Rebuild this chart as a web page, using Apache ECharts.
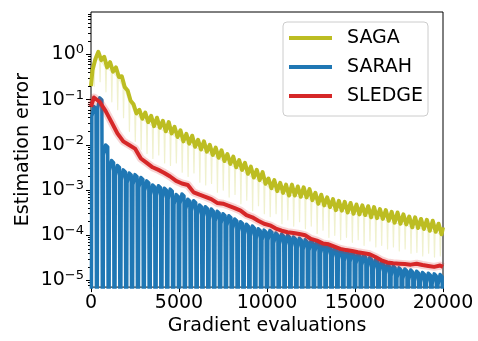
<!DOCTYPE html>
<html>
<head>
<meta charset="utf-8">
<script src="https://cdn.jsdelivr.net/npm/echarts@6/dist/echarts.min.js"></script>
<style>
html, body { margin: 0; padding: 0; background: #fff; }
#chart { width: 478px; height: 341px; }
</style>
</head>
<body>
<div id="chart"></div>
<script>
var xMax = 20000;
var period = xMax / 60;           // one outer loop = 1/60 of the run
var yLogMin = -5.147, yLogMax = 0.942;
var majorExp = [-5, -4, -3, -2, -1, 0];

// SARAH: error at the top of each loop (it drops to ~0 at every restart)
var sarahTop = [
	7.1e-2, 1.1e-1, 1.0e-2, 4.5e-3, 3.5e-3, 2.8e-3, 2.4e-3, 2.2e-3, 1.9e-3, 1.6e-3,
	1.3e-3, 1.25e-3, 1.1e-3, 1.05e-3, 8.0e-4, 8.2e-4, 6.3e-4, 5.8e-4, 4.7e-4, 4.3e-4,
	3.8e-4, 3.4e-4, 3.0e-4, 2.7e-4, 2.3e-4, 2.0e-4, 1.75e-4, 1.6e-4, 1.4e-4, 1.3e-4,
	1.28e-4, 1.12e-4, 1.06e-4, 1.0e-4, 9.2e-5, 8.6e-5, 8.0e-5, 7.6e-5, 7.1e-5, 6.6e-5,
	6.1e-5, 5.3e-5, 4.9e-5, 4.5e-5, 4.3e-5, 3.9e-5, 3.6e-5, 3.2e-5, 2.9e-5, 2.6e-5,
	2.3e-5, 2.1e-5, 1.9e-5, 1.8e-5, 1.7e-5, 1.6e-5, 1.5e-5, 1.45e-5, 1.4e-5, 1.35e-5
];
var sarahRestart = 1e-9;

// SAGA: high / low of each loop, and how far the faint runs dip
var sagaStart = 0.2, sagaEnd = 1.5e-4;
var sagaPeak = [
	4.5e-1, 1.15, 8.9e-1, 6.8e-1, 5.2e-1, 3.3e-1, 1.6e-1, 7.9e-2, 6.0e-2, 5.2e-2,
	4.4e-2, 4.0e-2, 3.4e-2, 3.2e-2, 2.5e-2, 2.1e-2, 1.75e-2, 1.6e-2, 1.3e-2, 1.2e-2,
	1.0e-2, 8.7e-3, 7.6e-3, 6.3e-3, 5.5e-3, 4.6e-3, 4.0e-3, 3.3e-3, 2.8e-3, 2.5e-3,
	1.8e-3, 1.66e-3, 1.45e-3, 1.32e-3, 1.32e-3, 1.2e-3, 1.15e-3, 1.05e-3, 8.7e-4, 7.9e-4,
	6.9e-4, 6.3e-4, 5.8e-4, 5.5e-4, 5.2e-4, 4.8e-4, 4.6e-4, 4.4e-4, 4.2e-4, 3.8e-4,
	3.6e-4, 3.3e-4, 3.2e-4, 2.9e-4, 2.6e-4, 2.5e-4, 2.3e-4, 2.2e-4, 2.1e-4, 1.8e-4
];
var sagaTrough = [
	8.0e-1, 7.5e-1, 5.2e-1, 4.2e-1, 3.2e-1, 1.9e-1, 9.5e-2, 5.0e-2, 3.8e-2, 3.2e-2,
	2.6e-2, 2.4e-2, 2.0e-2, 1.8e-2, 1.5e-2, 1.2e-2, 1.07e-2, 9.1e-3, 7.9e-3, 7.1e-3,
	6.0e-3, 5.2e-3, 4.4e-3, 3.8e-3, 3.2e-3, 2.8e-3, 2.3e-3, 1.9e-3, 1.66e-3, 1.38e-3,
	1.1e-3, 9.5e-4, 8.7e-4, 7.6e-4, 7.6e-4, 7.1e-4, 6.9e-4, 6.0e-4, 5.0e-4, 4.6e-4,
	4.2e-4, 3.6e-4, 3.5e-4, 3.2e-4, 3.0e-4, 2.9e-4, 2.8e-4, 2.5e-4, 2.4e-4, 2.3e-4,
	2.1e-4, 1.9e-4, 1.8e-4, 1.74e-4, 1.5e-4, 1.45e-4, 1.38e-4, 1.26e-4, 1.2e-4, 1.05e-4
];
var sagaDip = [
	2.0e-1, 2.5e-1, 1.5e-1, 9.0e-2, 6.0e-2, 4.0e-2, 2.0e-2, 1.2e-2, 8.0e-3, 6.5e-3,
	5.0e-3, 6.0e-3, 4.0e-3, 3.5e-3, 4.0e-3, 2.5e-3, 2.0e-3, 2.4e-3, 1.5e-3, 1.3e-3,
	1.4e-3, 9.0e-4, 1.0e-3, 7.0e-4, 8.0e-4, 5.0e-4, 6.0e-4, 3.5e-4, 4.5e-4, 3.0e-4,
	2.6e-4, 3.0e-4, 1.8e-4, 2.2e-4, 1.6e-4, 2.0e-4, 1.4e-4, 1.6e-4, 1.1e-4, 1.3e-4,
	9.0e-5, 1.0e-4, 8.0e-5, 9.0e-5, 7.0e-5, 8.0e-5, 6.0e-5, 7.5e-5, 5.5e-5, 6.0e-5,
	5.0e-5, 5.5e-5, 4.5e-5, 5.0e-5, 4.0e-5, 4.2e-5, 3.5e-5, 4.0e-5, 3.3e-5, 3.5e-5
];

// SLEDGE: one value per loop
var sledgeStart = 7.0e-2, sledgeEnd = 2.0e-5;
var sledge = [
	1.12e-1, 8.9e-2, 5.6e-2, 3.2e-2, 1.8e-2, 1.2e-2, 1.0e-2, 8.3e-3, 5.0e-3, 4.0e-3,
	3.2e-3, 2.8e-3, 2.4e-3, 2.0e-3, 1.6e-3, 1.4e-3, 1.3e-3, 8.9e-4, 7.9e-4, 7.1e-4,
	6.3e-4, 5.2e-4, 5.0e-4, 4.5e-4, 4.0e-4, 3.5e-4, 2.8e-4, 2.5e-4, 2.1e-4, 1.8e-4,
	1.66e-4, 1.41e-4, 1.26e-4, 1.17e-4, 1.12e-4, 1.07e-4, 1.0e-4, 8.3e-5, 7.6e-5, 6.6e-5,
	6.3e-5, 5.6e-5, 5.0e-5, 4.7e-5, 4.5e-5, 4.2e-5, 4.0e-5, 3.8e-5, 3.3e-5, 2.8e-5,
	2.5e-5, 2.4e-5, 2.35e-5, 2.3e-5, 2.24e-5, 2.35e-5, 2.2e-5, 2.1e-5, 2.0e-5, 2.14e-5
];

var font = "'DejaVu Sans', sans-serif";

// build the series point lists
var sarahData = [];
var sagaData = [[0, sagaStart]];
var sagaFaint = [];
var sledgeData = [[0, sledgeStart]];
for (var k = 0; k < 60; k++) {
	var x0 = k * period;
	sarahData.push([x0, sarahRestart]);
	sarahData.push([x0 + 0.15 * period, sarahTop[k] * 0.6]);
	sarahData.push([x0 + 0.5 * period, sarahTop[k]]);
	sarahData.push([x0 + 0.85 * period, sarahTop[k] * 0.9]);

	sagaData.push([x0 + 0.25 * period, sagaPeak[k]]);
	sagaData.push([x0 + 0.75 * period, sagaTrough[k]]);

	sagaFaint.push([x0 + 0.45 * period, sagaTrough[k]]);
	sagaFaint.push([x0 + 0.55 * period, sagaDip[k]]);
	sagaFaint.push([x0 + 0.65 * period, sagaTrough[k]]);

	sledgeData.push([x0 + 0.5 * period, sledge[k]]);
}
sarahData.push([xMax, sarahRestart]);
sagaData.push([xMax, sagaEnd]);
sledgeData.push([xMax, sledgeEnd]);

// minor ticks at 2..9 x 10^e, in log units
var minorTicks = [];
for (var e = -6; e <= 0; e++) {
	for (var m = 2; m <= 9; m++) {
		var v = e + Math.log10(m);
		if (v > yLogMin && v < yLogMax) minorTicks.push(v);
	}
}

var myChart = echarts.init(document.getElementById('chart'));

myChart.setOption({
	animation: false,
	textStyle: { fontFamily: font },
	grid: { left: 91, right: 35, top: 12, bottom: 51, show: true, borderColor: '#000', borderWidth: 1, backgroundColor: 'transparent' },
	legend: {
		data: [{ name: 'SAGA', icon: 'rect' }, { name: 'SARAH', icon: 'rect' }, { name: 'SLEDGE', icon: 'rect' }],
		orient: 'vertical',
		left: 283, top: 22,
		padding: [5, 5, 9, 6],
		itemWidth: 43, itemHeight: 4, itemGap: 7,
		textStyle: { fontFamily: font, fontSize: 19, color: '#000', lineHeight: 22, padding: [0, 0, 0, 10] },
		backgroundColor: 'rgba(255,255,255,0.8)',
		borderColor: '#cccccc', borderWidth: 1, borderRadius: 4,
		selectedMode: false
	},
	xAxis: {
		type: 'value', min: 0, max: xMax, interval: 5000,
		name: 'Gradient evaluations', nameLocation: 'middle', nameGap: 27,
		nameTextStyle: { fontFamily: font, fontSize: 19, color: '#000' },
		axisLine: { show: false, onZero: false },
		axisTick: { show: true, length: 5, lineStyle: { color: '#000', width: 1 } },
		axisLabel: { fontFamily: font, fontSize: 19, color: '#000', margin: 6, formatter: function (v) { return String(v); } },
		splitLine: { show: false }
	},
	yAxis: [{
		type: 'log', logBase: 10,
		min: Math.pow(10, yLogMin), max: Math.pow(10, yLogMax),
		name: 'Estimation error', nameLocation: 'middle', nameGap: 58,
		nameTextStyle: { fontFamily: font, fontSize: 19, color: '#000' },
		axisLine: { show: false, onZero: false }, axisTick: { show: false }, axisLabel: { show: false },
		splitLine: { show: false }
	}, {
		// minor ticks
		type: 'value', position: 'left', min: yLogMin, max: yLogMax,
		axisLine: { show: false, onZero: false }, axisLabel: { show: false }, splitLine: { show: false },
		axisTick: { show: true, length: 3, customValues: minorTicks, lineStyle: { color: '#000', width: 1 } }
	}, {
		// decade ticks and labels
		type: 'value', position: 'left', min: yLogMin, max: yLogMax,
		axisLine: { show: false, onZero: false }, splitLine: { show: false },
		axisTick: { show: true, length: 5, customValues: majorExp, lineStyle: { color: '#000', width: 1 } },
		axisLabel: {
			customValues: majorExp, margin: 7,
			formatter: function (v) {
				return '{b|10}{s|' + (v < 0 ? '\u2212' : '') + Math.abs(v) + '}';
			},
			rich: {
				b: { fontFamily: font, fontSize: 19, color: '#000', lineHeight: 22 },
				s: { fontFamily: font, fontSize: 13, color: '#000', verticalAlign: 'bottom', padding: [0, 0, 9, 0] }
			}
		}
	}],
	series: [{
		name: 'SAGA runs', type: 'line', data: sagaFaint, showSymbol: false, z: 1,
		lineStyle: { color: '#bcbd22', width: 1.2, opacity: 0.22, join: 'round' }
	}, {
		name: 'SAGA', type: 'line', data: sagaData, showSymbol: false, color: '#bcbd22', z: 2,
		lineStyle: { color: '#bcbd22', width: 4, join: 'round' }
	}, {
		name: 'SARAH', type: 'line', data: sarahData, showSymbol: false, color: '#1f77b4', z: 3,
		lineStyle: { color: '#1f77b4', width: 3.5, join: 'round' }
	}, {
		name: 'SLEDGE runs', type: 'line', data: sledgeData, showSymbol: false, z: 4,
		lineStyle: { color: '#d62728', width: 8, opacity: 0.2, join: 'round' }
	}, {
		name: 'SLEDGE', type: 'line', data: sledgeData, showSymbol: false, color: '#d62728', z: 5,
		lineStyle: { color: '#d62728', width: 4, join: 'round' }
	}]
});
</script>
</body>
</html>
